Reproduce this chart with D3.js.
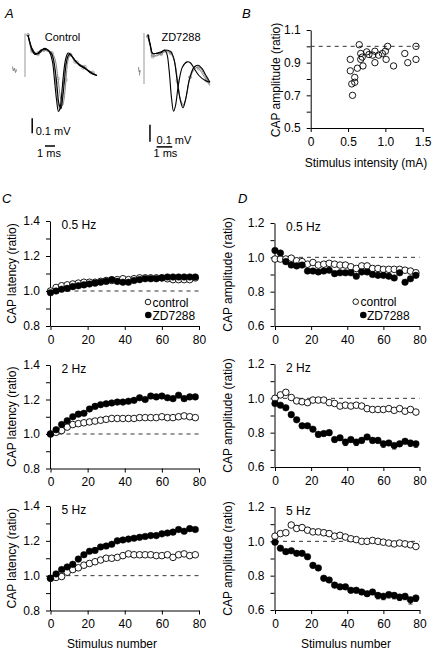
<!DOCTYPE html>
<html><head><meta charset="utf-8">
<script src="https://cdn.jsdelivr.net/npm/d3@7/dist/d3.min.js"></script>
<style>body{margin:0;background:#fff}svg{display:block;font-family:"Liberation Sans",Arial,sans-serif}</style>
</head><body><svg id="c" width="435" height="655"></svg>
<script>
// ---------- DATA ----------
const stim = [0,3,6,9,12,15,18,21,24,27,30,33,36,39,42,45,48,51,54,57,60,63,66,69,72,75,78];

const latency05Control = [1.00,1.02,1.03,1.035,1.04,1.045,1.05,1.05,1.05,1.055,1.06,1.06,1.065,1.07,1.065,1.07,1.075,1.075,1.075,1.075,1.075,1.07,1.065,1.065,1.065,1.065,1.075];
const latency05ZD      = [0.99,1.00,1.01,1.015,1.025,1.03,1.035,1.04,1.045,1.05,1.055,1.065,1.055,1.05,1.05,1.06,1.065,1.07,1.07,1.07,1.075,1.08,1.08,1.08,1.08,1.08,1.08];
const latency2Control  = [1.00,1.01,1.02,1.04,1.055,1.06,1.065,1.07,1.075,1.08,1.085,1.09,1.09,1.09,1.09,1.09,1.095,1.095,1.095,1.095,1.10,1.095,1.095,1.10,1.105,1.10,1.095];
const latency2ZD       = [1.00,1.025,1.055,1.077,1.10,1.115,1.12,1.145,1.16,1.17,1.175,1.18,1.185,1.185,1.19,1.195,1.21,1.20,1.22,1.215,1.22,1.21,1.205,1.225,1.205,1.215,1.215];
const latency5Control  = [0.985,0.99,0.995,1.02,1.035,1.045,1.06,1.07,1.08,1.09,1.10,1.10,1.105,1.115,1.125,1.12,1.12,1.12,1.12,1.115,1.115,1.12,1.105,1.12,1.125,1.115,1.12];
const latency5ZD       = [0.985,1.01,1.035,1.05,1.065,1.095,1.12,1.14,1.145,1.165,1.17,1.18,1.20,1.205,1.21,1.215,1.22,1.225,1.23,1.23,1.24,1.245,1.25,1.265,1.255,1.27,1.265];

const amp05Control = [0.99,0.99,0.99,0.995,0.98,0.975,0.96,0.97,0.955,0.96,0.965,0.96,0.955,0.955,0.945,0.935,0.95,0.95,0.935,0.935,0.93,0.93,0.93,0.93,0.925,0.92,0.91];
const amp05ZD      = [1.04,1.025,0.975,0.955,0.95,0.955,0.92,0.92,0.915,0.92,0.925,0.905,0.91,0.91,0.91,0.89,0.915,0.915,0.90,0.895,0.895,0.89,0.88,0.91,0.855,0.875,0.895];
const amp2Control  = [1.00,1.02,1.035,1.005,0.985,0.98,0.975,0.99,0.99,0.99,0.975,0.97,0.955,0.96,0.955,0.96,0.955,0.94,0.935,0.935,0.935,0.94,0.93,0.94,0.925,0.935,0.92];
const amp2ZD       = [0.97,0.96,0.945,0.905,0.875,0.84,0.84,0.82,0.79,0.795,0.80,0.76,0.77,0.745,0.76,0.745,0.755,0.775,0.755,0.755,0.735,0.74,0.725,0.735,0.75,0.74,0.735];
const amp5Control  = [1.03,1.045,1.05,1.095,1.075,1.08,1.065,1.055,1.055,1.05,1.045,1.03,1.035,1.025,1.015,1.01,1.0,1.0,1.005,1.0,0.995,0.99,0.985,0.99,0.985,0.98,0.97];
const amp5ZD       = [0.995,0.96,0.94,0.945,0.93,0.93,0.91,0.86,0.845,0.785,0.775,0.745,0.735,0.735,0.715,0.715,0.705,0.695,0.705,0.685,0.68,0.69,0.685,0.675,0.68,0.66,0.67];

const amp2ControlErr = [0.008,0.008,0.008,0.008,0.008,0.008,0.008,0.008,0.008,0.008,0.008,0.008,0.008,0.008,0.008,0.008,0.008,0.008,0.008,0.008,0.008,0.008,0.008,0.008,0.008,0.008,0.008];
const amp2ZDErr      = [0.01,0.01,0.01,0.01,0.01,0.012,0.012,0.012,0.015,0.015,0.015,0.015,0.015,0.02,0.015,0.02,0.015,0.015,0.015,0.015,0.02,0.015,0.02,0.015,0.015,0.02,0.02];
const amp5ControlErr = [0.01,0.012,0.012,0.015,0.015,0.015,0.015,0.015,0.015,0.015,0.015,0.015,0.015,0.015,0.012,0.012,0.012,0.012,0.012,0.012,0.012,0.012,0.012,0.012,0.012,0.012,0.015];
const amp5ZDErr      = [0.01,0.01,0.01,0.01,0.012,0.012,0.012,0.015,0.015,0.015,0.015,0.015,0.015,0.015,0.015,0.015,0.015,0.015,0.015,0.02,0.02,0.02,0.02,0.02,0.02,0.025,0.02];

// Panel B: stimulus intensity (mA) vs CAP amplitude ratio
const intensity = [0.65,0.53,0.53,0.55,0.59,0.59,0.56,0.625,0.67,0.67,0.69,0.70,0.75,0.78,0.86,0.86,0.83,0.91,0.96,1.00,1.03,1.01,1.11,1.26,1.30,1.41,1.41];
const ampRatio  = [1.01,0.92,0.85,0.77,0.78,0.81,0.70,0.866,0.956,0.92,0.934,0.88,0.966,0.95,0.97,0.90,0.946,0.946,0.956,0.97,1.00,0.92,0.88,0.956,0.90,1.00,0.92];

// Panel A: CAP traces (time in ms, voltage in mV)
const ctrlTraces = [
  {color:"#000", marks:false, pts:[[0.3,0.1],[0.45,0.06],[0.7,0.01],[1.0,-0.02],[1.3,-0.025],[1.6,-0.01],[1.9,0.01],[2.2,0.005],[2.5,-0.02],[2.75,-0.08],[2.95,-0.2],[3.15,-0.33],[3.35,-0.41],[3.5,-0.39],[3.7,-0.27],[3.9,-0.13],[4.1,-0.05],[4.3,-0.02],[4.5,-0.025],[4.9,-0.06],[5.4,-0.1],[5.9,-0.12],[6.4,-0.14],[6.8,-0.16],[7.2,-0.17]]},
  {color:"#000", marks:false, pts:[[0.3,0.1],[0.45,0.06],[0.7,0.0],[1.0,-0.03],[1.3,-0.02],[1.6,0.0],[1.9,0.005],[2.3,0.0],[2.7,-0.03],[2.95,-0.1],[3.2,-0.24],[3.4,-0.36],[3.6,-0.39],[3.75,-0.33],[3.95,-0.2],[4.15,-0.08],[4.4,-0.03],[4.6,-0.035],[5.0,-0.07],[5.5,-0.1],[6.0,-0.12],[6.5,-0.15],[7.2,-0.17]]},
  {color:"#888", marks:true, pts:[[0.3,0.1],[0.45,0.05],[0.7,-0.01],[1.0,-0.03],[1.3,-0.02],[1.6,-0.005],[1.9,0.0],[2.3,-0.01],[2.7,-0.02],[3.0,-0.06],[3.3,-0.19],[3.55,-0.32],[3.75,-0.37],[3.9,-0.33],[4.1,-0.2],[4.3,-0.07],[4.55,-0.03],[4.8,-0.05],[5.2,-0.08],[5.6,-0.1],[6.0,-0.11],[6.4,-0.14],[6.8,-0.15],[7.2,-0.17]]},
  {color:"#888", marks:true, pts:[[0.3,0.1],[0.45,0.05],[0.7,0.0],[1.0,-0.025],[1.3,-0.03],[1.6,-0.015],[1.9,0.0],[2.3,-0.005],[2.6,-0.02],[2.85,-0.08],[3.1,-0.22],[3.3,-0.35],[3.5,-0.4],[3.65,-0.36],[3.85,-0.22],[4.05,-0.1],[4.3,-0.04],[4.6,-0.04],[5.0,-0.08],[5.4,-0.09],[5.8,-0.12],[6.2,-0.13],[6.6,-0.15],[7.0,-0.16]]}
];
const ctrlPre = [[-1.25,-0.11],[-1.15,-0.14],[-1.05,-0.12],[-0.95,-0.15],[-0.85,-0.13]];
const zdTraces = [
  {color:"#000", marks:false, pts:[[0.25,0.09],[0.4,0.03],[0.55,-0.02],[0.8,-0.02],[1.1,-0.015],[1.3,0.0],[1.45,-0.02],[1.6,-0.12],[1.75,-0.28],[1.88,-0.36],[2.0,-0.33],[2.2,-0.2],[2.45,-0.1],[2.75,-0.07],[2.95,-0.075],[3.2,-0.11],[3.5,-0.15],[3.9,-0.18],[4.2,-0.19]]},
  {color:"#000", marks:false, pts:[[0.25,0.09],[0.4,0.03],[0.55,-0.02],[0.8,-0.02],[1.1,-0.01],[1.4,0.0],[1.7,-0.01],[1.9,-0.05],[2.1,-0.17],[2.3,-0.29],[2.48,-0.34],[2.65,-0.29],[2.9,-0.17],[3.2,-0.1],[3.45,-0.09],[3.7,-0.11],[3.95,-0.15],[4.2,-0.19]]},
  {color:"#888", marks:true, pts:[[0.25,0.08],[0.4,0.02],[0.55,-0.03],[0.8,-0.035],[1.1,-0.02],[1.4,-0.01],[1.7,-0.02],[1.95,-0.07],[2.15,-0.19],[2.35,-0.3],[2.52,-0.32],[2.7,-0.27],[2.95,-0.16],[3.25,-0.11],[3.5,-0.1],[3.75,-0.13],[4.0,-0.17],[4.2,-0.2]]},
  {color:"#888", marks:true, pts:[[0.25,0.08],[0.4,0.02],[0.55,-0.04],[0.8,-0.03],[1.1,-0.025],[1.4,-0.005],[1.7,-0.015],[1.92,-0.06],[2.12,-0.18],[2.32,-0.29],[2.5,-0.33],[2.68,-0.28],[2.92,-0.16],[3.22,-0.1],[3.48,-0.11],[3.72,-0.14],[3.98,-0.18],[4.2,-0.21]]}
];
const zdPre = [[-0.35,-0.1],[-0.3,-0.13],[-0.25,-0.12],[-0.3,-0.15]];

const latencyTicks = [0.8,1.0,1.2,1.4];
const ampTicks = [0.6,0.8,1.0,1.2];
const xTicks = [0,20,40,60,80];

// ---------- DRAW ----------
const svg = d3.select("#c");
const FS = 12;

function styleAxis(g){
  g.select(".domain").attr("stroke","#000").attr("stroke-width",1);
  g.selectAll(".tick line").attr("stroke","#000");
  g.selectAll(".tick text").attr("font-size",FS).attr("font-family","Liberation Sans, Arial, sans-serif").attr("fill","#000");
}

function timePanel(o){
  const x = d3.scaleLinear().domain([0,80]).range([o.x0,o.x1]);
  const y = d3.scaleLinear().domain(o.yDom).range([o.yBot,o.yTop]);
  const g = svg.append("g");
  const minor = d3.range(Math.round(o.yDom[0]*10), Math.round(o.yDom[1]*10)+1).map(v=>v/10);
  g.append("g").attr("transform",`translate(${x(0)-0.5},0)`)
    .call(d3.axisLeft(y).tickValues(minor).tickSize(4).tickSizeOuter(0).tickPadding(6)
      .tickFormat(d => o.labelTicks.some(t=>Math.abs(t-d)<1e-6) ? d.toFixed(1) : ""))
    .call(styleAxis);
  g.append("g").attr("transform",`translate(0,${o.yBot})`)
    .call(d3.axisBottom(x).tickValues(xTicks).tickSize(4).tickSizeOuter(0).tickPadding(5))
    .call(styleAxis);
  g.append("line").attr("x1",x(0)).attr("x2",x(80)).attr("y1",y(1)).attr("y2",y(1))
    .attr("stroke","#333").attr("stroke-width",1).attr("stroke-dasharray","4,4");
  function err(vals, errs, dir){
    if(!errs) return;
    const eg = g.append("g").attr("stroke","#000").attr("stroke-width",0.9);
    stim.forEach((s,i)=>{
      const v0 = vals[i], v1 = vals[i] + dir*errs[i];
      eg.append("line").attr("x1",x(s)).attr("x2",x(s)).attr("y1",y(v0)).attr("y2",y(v1));
      eg.append("line").attr("x1",x(s)-2).attr("x2",x(s)+2).attr("y1",y(v1)).attr("y2",y(v1));
    });
  }
  err(o.ctrl,o.ctrlErr,1);
  err(o.zd,o.zdErr,-1);
  const R = 3.3;
  g.append("g").selectAll("circle").data(stim).join("circle")
    .attr("cx",d=>x(d)).attr("cy",(d,i)=>y(o.ctrl[i])).attr("r",R)
    .attr("fill","#fff").attr("stroke","#000").attr("stroke-width",0.9);
  g.append("g").selectAll("circle").data(stim).join("circle")
    .attr("cx",d=>x(d)).attr("cy",(d,i)=>y(o.zd[i])).attr("r",R)
    .attr("fill","#000").attr("stroke","#000").attr("stroke-width",0.5);
  g.append("text").attr("x",o.x0+11).attr("y",o.yTop+8).attr("font-size",FS).text(o.freq);
  g.append("text").attr("transform",`translate(${o.ylx},${(o.yTop+o.yBot)/2}) rotate(-90)`)
    .attr("text-anchor","middle").attr("font-size",FS).text(o.ylabel);
  if(o.xlabel){
    g.append("text").attr("x",o.xlx).attr("y",648).attr("text-anchor","middle").attr("font-size",FS).text(o.xlabel);
  }
  if(o.legend){
    const L = o.legend;
    g.append("circle").attr("cx",L[0]).attr("cy",L[1]).attr("r",2.8).attr("fill","#fff").attr("stroke","#000").attr("stroke-width",0.9);
    g.append("text").attr("x",L[2]).attr("y",L[1]+4.5).attr("font-size",FS).text("control");
    g.append("circle").attr("cx",L[3]).attr("cy",L[4]).attr("r",3.3).attr("fill","#000");
    g.append("text").attr("x",L[5]).attr("y",L[4]+4.5).attr("font-size",FS).text("ZD7288");
  }
}

timePanel({x0:50.5,x1:199,yTop:221,yBot:326,yDom:[0.8,1.4],labelTicks:latencyTicks,ctrl:latency05Control,zd:latency05ZD,freq:"0.5 Hz",ylabel:"CAP latency (ratio)",ylx:16,legend:[148,302,152.5,148.3,315,152.5]});
timePanel({x0:50.5,x1:199,yTop:365,yBot:468.5,yDom:[0.8,1.4],labelTicks:latencyTicks,ctrl:latency2Control,zd:latency2ZD,freq:"2 Hz",ylabel:"CAP latency (ratio)",ylx:16});
timePanel({x0:50.5,x1:199,yTop:506,yBot:610.5,yDom:[0.8,1.4],labelTicks:latencyTicks,ctrl:latency5Control,zd:latency5ZD,freq:"5 Hz",ylabel:"CAP latency (ratio)",ylx:16,xlabel:"Stimulus number",xlx:112});
timePanel({x0:275,x1:419.5,yTop:223,yBot:326,yDom:[0.6,1.2],labelTicks:ampTicks,ctrl:amp05Control,zd:amp05ZD,freq:"0.5 Hz",ylabel:"CAP amplitude (ratio)",ylx:232,legend:[355.7,301.7,360.5,363.3,315,367]});
timePanel({x0:275,x1:419.5,yTop:364,yBot:467,yDom:[0.6,1.2],labelTicks:ampTicks,ctrl:amp2Control,zd:amp2ZD,ctrlErr:amp2ControlErr,zdErr:amp2ZDErr,freq:"2 Hz",ylabel:"CAP amplitude (ratio)",ylx:232});
timePanel({x0:275,x1:419.5,yTop:507,yBot:610,yDom:[0.6,1.2],labelTicks:ampTicks,ctrl:amp5Control,zd:amp5ZD,ctrlErr:amp5ControlErr,zdErr:amp5ZDErr,freq:"5 Hz",ylabel:"CAP amplitude (ratio)",ylx:232,xlabel:"Stimulus number",xlx:346});

// Panel B
(function(){
  const x = d3.scaleLinear().domain([0,1.5]).range([310.7,422.7]);
  const y = d3.scaleLinear().domain([0.5,1.1]).range([128,30]);
  const g = svg.append("g");
  g.append("g").attr("transform",`translate(${x(0)},0)`)
    .call(d3.axisLeft(y).tickValues([0.5,0.6,0.7,0.8,0.9,1.0,1.1]).tickSize(4).tickSizeOuter(0).tickPadding(6)
      .tickFormat(d => [0.5,0.7,0.9,1.1].some(t=>Math.abs(t-d)<1e-6)? d.toFixed(1):""))
    .call(styleAxis);
  g.append("g").attr("transform",`translate(0,${y(0.5)})`)
    .call(d3.axisBottom(x).tickValues([0,0.5,1.0,1.5]).tickSize(4).tickSizeOuter(0).tickPadding(5)
      .tickFormat(d => d===0?"0":d.toFixed(1)))
    .call(styleAxis);
  g.append("line").attr("x1",x(0)).attr("x2",x(1.5)).attr("y1",y(1)).attr("y2",y(1))
    .attr("stroke","#333").attr("stroke-dasharray","4,4");
  g.append("g").selectAll("circle").data(intensity).join("circle")
    .attr("cx",d=>x(d)).attr("cy",(d,i)=>y(ampRatio[i])).attr("r",3.2)
    .attr("fill","none").attr("stroke","#000").attr("stroke-width",0.9);
  g.append("text").attr("transform","translate(280,80) rotate(-90)").attr("text-anchor","middle").attr("font-size",FS).text("CAP amplitude (ratio)");
  g.append("text").attr("x",366).attr("y",167).attr("text-anchor","middle").attr("font-size",FS).text("Stimulus intensity (mA)");
})();

// Panel A
function tracePanel(o){
  const x = d3.scaleLinear().domain([0,1]).range([o.xo,o.xo+o.pxms]);
  const y = d3.scaleLinear().domain([0,0.1]).range([50,50-o.px01]);
  const g = svg.append("g");
  const line = d3.line().x(d=>x(d[0])).y(d=>y(d[1])).curve(d3.curveCatmullRom.alpha(0.5));
  g.append("line").attr("x1",x(0)).attr("x2",x(0)).attr("y1",y(o.art[0])).attr("y2",y(o.art[1])).attr("stroke","#999").attr("stroke-width",1);
  g.append("path").attr("d",line(o.pre)).attr("fill","none").attr("stroke","#666").attr("stroke-width",0.8);
  o.traces.slice().reverse().forEach(t=>{
    g.append("path").attr("d",line(t.pts)).attr("fill","none").attr("stroke",t.color).attr("stroke-width",t.color==="#000"?1.1:1);
    if(t.marks){
      g.append("g").selectAll("circle").data(t.pts.filter((p,i)=>i%2===0 && p[1]>-0.25)).join("circle")
        .attr("cx",d=>x(d[0])).attr("cy",d=>y(d[1])).attr("r",1.4).attr("fill","none").attr("stroke","#888").attr("stroke-width",0.6);
    }
  });
  g.append("line").attr("x1",x(o.vbar[0])).attr("x2",x(o.vbar[0])).attr("y1",y(o.vbar[1])).attr("y2",y(o.vbar[1]-0.1)).attr("stroke","#000").attr("stroke-width",1.5);
  g.append("text").attr("x",x(o.vbar[0])+o.mvdx).attr("y",y(o.vbar[1]-0.1)+2).attr("font-size",11).text("0.1 mV");
  g.append("line").attr("x1",x(o.hbar[0])).attr("x2",x(o.hbar[0]+1)).attr("y1",y(o.hbar[1])).attr("y2",y(o.hbar[1])).attr("stroke","#000").attr("stroke-width",1.5);
  g.append("text").attr("x",(x(o.hbar[0])+x(o.hbar[0]+1))/2+o.msdx).attr("y",157).attr("text-anchor","middle").attr("font-size",11).text("1 ms");
  g.append("text").attr("x",o.titleX).attr("y",41).attr("text-anchor","middle").attr("font-size",11).text(o.title);
}
tracePanel({xo:25,pxms:10,px01:15,traces:ctrlTraces,pre:ctrlPre,art:[0.11,-0.18],vbar:[0.72,-0.455],hbar:[2.0,-0.64],msdx:-1,mvdx:3.5,title:"Control",titleX:62.5});
tracePanel({xo:144,pxms:15.7,px01:17,traces:zdTraces,pre:zdPre,art:[0.1,-0.2],vbar:[0.38,-0.44],hbar:[0.8,-0.57],msdx:1,mvdx:6.5,title:"ZD7288",titleX:181});

[["A",5,18],["B",242,18],["C",2,203],["D",238,203]].forEach(([t,xx,yy])=>{
  svg.append("text").attr("x",xx).attr("y",yy).attr("font-size",13).attr("font-style","italic").text(t);
});
</script></body></html>
